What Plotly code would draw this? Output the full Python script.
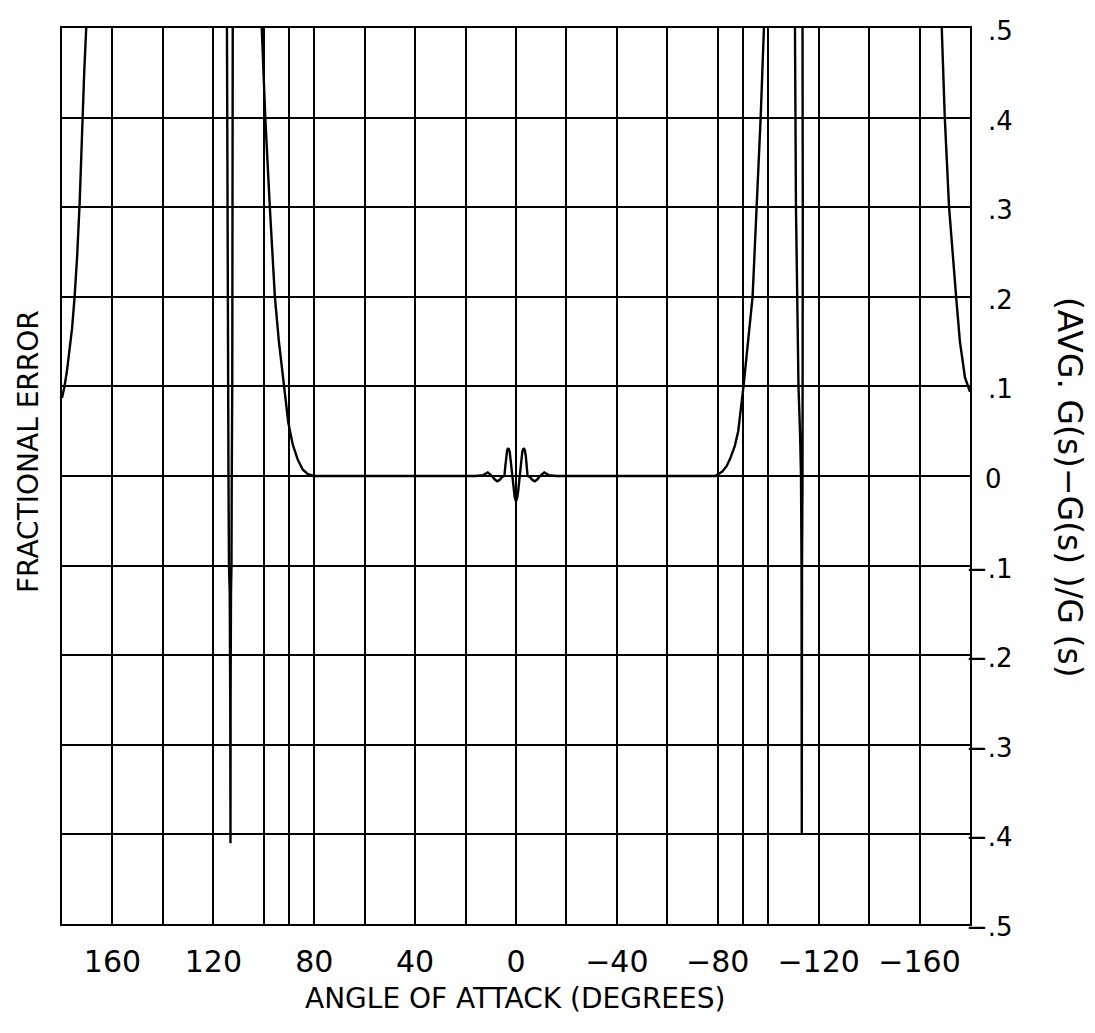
import plotly.graph_objects as go

# ---- data ----
outer_left_angle = [180, 179, 178, 177, 176, 175, 174, 173, 172, 171.2, 170.4]
outer_left_error = [0.087, 0.1, 0.118, 0.14, 0.165, 0.2, 0.245, 0.305, 0.39, 0.45, 0.5]

spike_left_angle = [114.6, 114.3, 114.0, 113.8, 113.5, 113.3, 113.2, 113.15, 113.0, 112.8, 112.7, 112.5, 112.3]
spike_left_error = [0.5, 0.1, 0.0, -0.1, -0.13, -0.25, -0.41, -0.25, -0.13, -0.1, 0.0, 0.1, 0.5]

main_angle = [100.8, 99.4, 97.6, 95.6, 94.0, 92.0, 90.3, 88.5, 86.5, 84.5, 82.5, 80.0,
              16, 13, 11.2, 9.5, 8.4, 7.4, 6.3, 5.5, 4.6, 4.2, 3.9, 3.5, 3.0, 2.5, 2.1, 1.7, 1.3, 0.9, 0.5, 0,
              -0.5, -0.9, -1.3, -1.7, -2.1, -2.5, -3.0, -3.5, -3.9, -4.2, -4.6, -5.5, -6.3, -7.4, -8.4, -9.5,
              -11.2, -13, -16,
              -79.0, -81.8, -83.5, -85.0, -86.7, -88.1, -90.2, -92.0, -93.8, -95.4, -97.0, -98.3]
main_error = [0.5, 0.4, 0.3, 0.2, 0.15, 0.1, 0.06, 0.035, 0.018, 0.007, 0.002, 0.0,
              0.0, 0.001, 0.004, 0.0, -0.004, -0.006, -0.004, -0.001, 0.0, 0.012, 0.022, 0.029, 0.031,
              0.027, 0.017, 0.006, -0.004, -0.016, -0.024, -0.028,
              -0.024, -0.016, -0.004, 0.006, 0.017, 0.027, 0.031, 0.029, 0.022, 0.012, 0.0, -0.001,
              -0.004, -0.006, -0.004, 0.0,
              0.004, 0.001, 0.0,
              0.0, 0.005, 0.011, 0.02, 0.033, 0.05, 0.1, 0.15, 0.2, 0.3, 0.4, 0.5]

spike_right_angle = [-110.6, -111.0, -111.5, -112.0, -112.6, -113.0, -113.2, -113.3, -113.4, -113.6, -113.7, -113.7, -113.6]
spike_right_error = [0.5, 0.3, 0.2, 0.1, 0.05, 0.0, -0.1, -0.40, -0.1, 0.0, 0.1, 0.3, 0.5]

outer_right_angle = [-168.8, -170.0, -171.7, -173.0, -174.5, -176.0, -178.0, -180.0]
outer_right_error = [0.5, 0.4, 0.3, 0.25, 0.2, 0.15, 0.11, 0.094]

x_grid = [180, 160, 140, 120, 100, 90, 80, 60, 40, 20, 0, -20, -40, -60, -80, -90, -100, -120, -140, -160, -180]
x_label_vals = [160, 120, 80, 40, 0, -40, -80, -120, -160]
x_label_text = ["160", "120", "80", "40", "0", "\u221240", "\u221280", "\u2212120", "\u2212160"]

y_vals = [0.5, 0.4, 0.3, 0.2, 0.1, 0.0, -0.1, -0.2, -0.3, -0.4, -0.5]
y_text = [".5", ".4", ".3", ".2", ".1", "0", "\u2212.1", "\u2212.2", "\u2212.3", "\u2212.4", "\u2212.5"]

segments = [
    (outer_left_angle, outer_left_error),
    (spike_left_angle, spike_left_error),
    (main_angle, main_error),
    (spike_right_angle, spike_right_error),
    (outer_right_angle, outer_right_error),
]

FONT = "DejaVu Sans"
W, H = 1095, 1033
l, r, t, b = 62, 125, 28, 109
pw, ph = W - l - r, H - t - b


def px_x(px):
    return (px - l) / pw


def px_y(py):
    return (H - b - py) / ph


fig = go.Figure()
for ax, ay in segments:
    fig.add_trace(go.Scatter(x=ax, y=ay, mode="lines",
                             line=dict(color="black", width=2.4),
                             showlegend=False, hoverinfo="skip"))

tick_text_full = [x_label_text[x_label_vals.index(v)] if v in x_label_vals else "" for v in x_grid]

annotations = [
    dict(text="ANGLE OF ATTACK (DEGREES)", x=px_x(515), y=px_y(998), xref="paper", yref="paper",
         showarrow=False, font=dict(size=28, family=FONT), xanchor="center", yanchor="middle"),
    dict(text="FRACTIONAL ERROR", x=px_x(28), y=px_y(452), xref="paper", yref="paper",
         showarrow=False, textangle=-90, font=dict(size=28, family=FONT),
         xanchor="center", yanchor="middle"),
    dict(text="(AVG. G(s)\u2212G(s) )/G (s)", x=px_x(1070), y=px_y(487), xref="paper", yref="paper",
         showarrow=False, textangle=90, font=dict(size=33, family=FONT),
         xanchor="center", yanchor="middle"),
]
# y tick labels on the right, aligned on the decimal point
for v, txt in zip(y_vals, y_text):
    if txt == "0":
        annotations.append(dict(text=txt, x=px_x(993), xref="paper", y=v, yref="y",
                                xanchor="center", yanchor="middle", yshift=-3, showarrow=False,
                                font=dict(size=26, family=FONT)))
    else:
        annotations.append(dict(text=txt, x=px_x(1015), xref="paper", y=v, yref="y",
                                xanchor="right", yanchor="middle", yshift=-3, showarrow=False,
                                font=dict(size=26, family=FONT)))

fig.update_layout(
    width=W, height=H,
    margin=dict(l=l, r=r, t=t, b=b),
    paper_bgcolor="white", plot_bgcolor="white",
    font=dict(family=FONT, color="black"),
    xaxis=dict(range=[180, -180], tickmode="array", tickvals=x_grid, ticktext=tick_text_full,
               showgrid=True, gridcolor="black", gridwidth=1.8,
               showline=True, linecolor="black", linewidth=2.2, mirror=True,
               ticks="", zeroline=False, tickfont=dict(size=30, family=FONT), ticklabelstandoff=10),
    yaxis=dict(range=[-0.5, 0.5], side="right", tickmode="array", tickvals=y_vals,
               showticklabels=False,
               showgrid=True, gridcolor="black", gridwidth=1.8,
               showline=True, linecolor="black", linewidth=2.2, mirror=True,
               ticks="", zeroline=False),
    annotations=annotations,
)

fig.write_html("out.html")
